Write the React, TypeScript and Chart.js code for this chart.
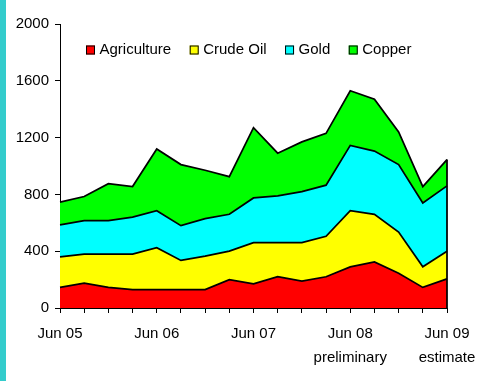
import React, { useEffect, useRef } from 'react';
import { Chart, registerables } from 'chart.js';

Chart.register(...registerables);

// Quarterly periods, June 2005 to June 2009
const categories = [
  'Jun 05', 'Sep 05', 'Dec 05', 'Mar 06', 'Jun 06', 'Sep 06', 'Dec 06', 'Mar 07',
  'Jun 07', 'Sep 07', 'Dec 07', 'Mar 08', 'Jun 08', 'Sep 08', 'Dec 08', 'Mar 09', 'Jun 09',
];

// Axis labels shown under the x axis (blank entries keep only the tick mark)
const tickLabels: (string | string[])[] = [
  'Jun 05', '', '', '', 'Jun 06', '', '', '',
  'Jun 07', '', '', '', ['Jun 08', 'preliminary'], '', '', '', ['Jun 09', 'estimate'],
];

const yTicks = [0, 400, 800, 1200, 1600, 2000];

const agriculture = [145, 175, 145, 130, 130, 130, 130, 200, 170, 220, 190, 220, 290, 325, 245, 145, 205];
const crudeOil = [215, 205, 235, 250, 295, 205, 235, 200, 290, 240, 270, 285, 395, 335, 290, 145, 195];
const gold = [225, 235, 235, 260, 260, 245, 265, 260, 315, 330, 360, 360, 460, 445, 475, 450, 460];
const copper = [160, 170, 260, 215, 435, 430, 340, 265, 495, 300, 350, 365, 385, 365, 230, 115, 185];

const FONT = '"Liberation Sans", Arial, sans-serif';

// Legend drawn inside the plot area, one row near the top
const insideLegend = {
  id: 'insideLegend',
  afterDraw(chart: any) {
    const { ctx, chartArea } = chart;
    const box = 9;
    const gapText = 4.5;
    const gapItem = 18.5;
    let x = chartArea.left + 26;
    const cy = chartArea.top + 26;
    ctx.save();
    ctx.font = `15px ${FONT}`;
    ctx.textBaseline = 'middle';
    ctx.textAlign = 'left';
    chart.data.datasets.forEach((ds: any) => {
      ctx.fillStyle = ds.backgroundColor;
      ctx.fillRect(x, cy - box / 2, box, box);
      ctx.strokeStyle = '#000';
      ctx.lineWidth = 1;
      ctx.strokeRect(x + 0.5, cy - box / 2 + 0.5, box - 1, box - 1);
      const tx = x + box + gapText;
      ctx.fillStyle = '#000';
      ctx.fillText(ds.label, tx, cy);
      x = tx + ctx.measureText(ds.label).width + gapItem;
    });
    ctx.restore();
  },
};

// Closing vertical outline on the stacked area's end
const edgeOutline = {
  id: 'edgeOutline',
  afterDatasetsDraw(chart: any) {
    const { ctx } = chart;
    const xs = chart.scales.x;
    const ys = chart.scales.y;
    const last = categories.length - 1;
    const total = chart.data.datasets.reduce((s: number, ds: any) => s + ds.data[last], 0);
    const px = xs.getPixelForValue(last);
    ctx.save();
    ctx.strokeStyle = '#000';
    ctx.lineWidth = 1.75;
    ctx.beginPath();
    ctx.moveTo(px, ys.getPixelForValue(0));
    ctx.lineTo(px, ys.getPixelForValue(total));
    ctx.stroke();
    ctx.restore();
  },
};

export default function App() {
  const canvasRef = useRef<HTMLCanvasElement | null>(null);

  useEffect(() => {
    if (!canvasRef.current) return;
    const series = [
      { label: 'Agriculture', data: agriculture, color: '#FF0000' },
      { label: 'Crude Oil', data: crudeOil, color: '#FFFF00' },
      { label: 'Gold', data: gold, color: '#00FFFF' },
      { label: 'Copper', data: copper, color: '#00FF00' },
    ];
    const chart = new Chart(canvasRef.current, {
      type: 'line',
      data: {
        labels: categories,
        datasets: series.map((s, i) => ({
          label: s.label,
          data: s.data,
          backgroundColor: s.color,
          borderColor: '#000',
          borderWidth: 1.75,
          fill: i === 0 ? 'origin' : '-1',
          pointRadius: 0,
          tension: 0,
        })),
      },
      options: {
        responsive: false,
        animation: false,
        layout: { padding: { left: 0, right: 54, top: 24, bottom: 0 } },
        plugins: {
          legend: { display: false },
          tooltip: { enabled: false },
        },
        scales: {
          x: {
            type: 'category',
            offset: false,
            grid: {
              display: true,
              drawOnChartArea: false,
              drawTicks: true,
              tickLength: 5,
              color: '#000',
              offset: false,
            },
            border: { display: true, color: '#000', width: 1 },
            ticks: {
              autoSkip: false,
              maxRotation: 0,
              minRotation: 0,
              padding: 9,
              color: '#000',
              font: { family: FONT, size: 15, lineHeight: 1.6 },
              callback: (_v: any, i: number) => tickLabels[i],
            },
            afterFit: (scale: any) => {
              scale.height = 73;
            },
          },
          y: {
            stacked: true,
            min: yTicks[0],
            max: yTicks[yTicks.length - 1],
            grid: {
              display: true,
              drawOnChartArea: false,
              drawTicks: true,
              tickLength: 5,
              color: '#000',
            },
            border: { display: true, color: '#000', width: 1 },
            afterBuildTicks: (scale: any) => {
              scale.ticks = yTicks.map((v) => ({ value: v }));
            },
            ticks: {
              padding: 6,
              color: '#000',
              font: { family: FONT, size: 15 },
              callback: (v: any) => String(v),
            },
            afterFit: (scale: any) => {
              scale.width = 60;
            },
          },
        },
      },
      plugins: [insideLegend, edgeOutline],
    });
    return () => chart.destroy();
  }, []);

  return (
    <div
      style={{
        position: 'absolute',
        left: 0,
        top: 0,
        width: 501,
        height: 381,
        background: '#fff',
        overflow: 'hidden',
      }}
    >
      <canvas ref={canvasRef} width={501} height={381} style={{ display: 'block' }} />
      <div
        style={{
          position: 'absolute',
          left: 0,
          top: 0,
          width: 6,
          height: 381,
          background: '#33CCCC',
        }}
      />
    </div>
  );
}
